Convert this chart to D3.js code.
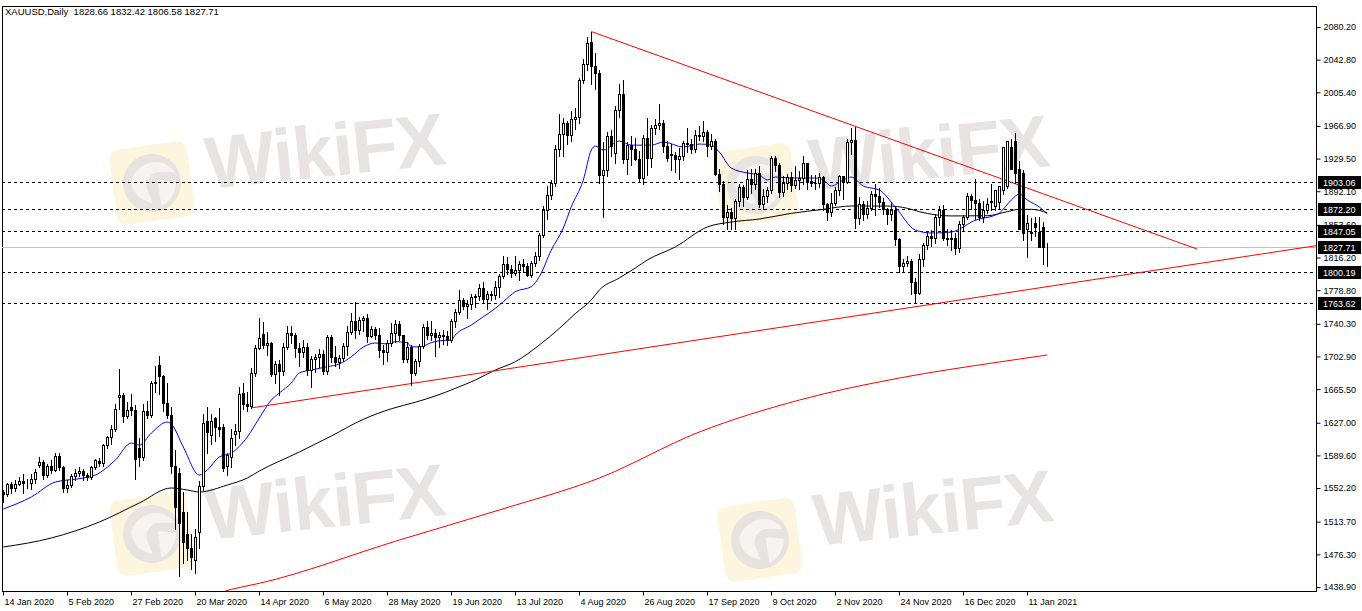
<!DOCTYPE html>
<html><head><meta charset="utf-8">
<script src="https://cdn.jsdelivr.net/npm/d3@7"></script>
<style>
html,body{margin:0;padding:0;background:#fff;}
svg{display:block;}
text{font-family:"Liberation Sans",Arial,sans-serif;}
</style></head><body>
<svg id="chart" width="1362" height="611"></svg>
<script>
const header = "XAUUSD,Daily  1828.66 1832.42 1806.58 1827.71";
const opens = [1548,1545,1557,1552,1557,1560,1558,1558,1563,1579,1582,1567,1577,1573,1589,1576,1552,1556,1566,1570,1572,1567,1565,1576,1583,1581,1601,1611,1620,1657,1659,1635,1645,1642,1598,1588,1641,1636,1672,1693,1680,1650,1636,1577,1570,1525,1500,1484,1470,1502,1554,1629,1613,1632,1622,1622,1577,1588,1614,1617,1661,1648,1646,1684,1713,1729,1716,1718,1683,1694,1686,1714,1730,1727,1713,1708,1714,1687,1700,1702,1706,1686,1725,1702,1697,1701,1715,1731,1743,1733,1745,1747,1726,1734,1728,1710,1708,1718,1730,1740,1727,1700,1714,1684,1698,1715,1737,1728,1730,1725,1727,1726,1722,1743,1754,1768,1761,1763,1771,1772,1781,1769,1775,1773,1783,1795,1809,1803,1798,1802,1809,1807,1796,1810,1818,1842,1871,1888,1902,1941,1958,1970,1957,1975,1977,2019,2038,2063,2035,2028,1911,1916,1955,1936,1985,2003,1929,1945,1940,1929,1907,1953,1930,1964,1968,1970,1944,1935,1934,1929,1932,1947,1946,1940,1957,1955,1960,1944,1950,1912,1900,1863,1868,1862,1881,1897,1886,1906,1900,1913,1877,1887,1893,1930,1922,1891,1902,1908,1899,1905,1907,1924,1904,1902,1901,1908,1877,1868,1879,1894,1909,1903,1948,1951,1862,1877,1866,1873,1889,1887,1880,1872,1866,1871,1837,1806,1810,1812,1788,1776,1815,1830,1841,1838,1863,1871,1838,1837,1839,1827,1855,1863,1887,1882,1879,1863,1871,1881,1875,1880,1893,1898,1943,1950,1918,1913,1849,1844,1856,1846,1851,1828.66];
const highs = [1550,1558,1559,1561,1565,1568,1563,1568,1574,1588,1584,1580,1584,1592,1592,1578,1562,1568,1574,1576,1574,1570,1578,1585,1587,1603,1612,1624,1649,1689,1661,1651,1660,1647,1609,1649,1652,1675,1692,1703,1682,1672,1645,1596,1575,1548,1525,1500,1505,1560,1637,1645,1637,1634,1644,1625,1592,1620,1626,1668,1672,1662,1690,1716,1747,1742,1731,1720,1698,1699,1718,1738,1738,1730,1718,1722,1718,1703,1706,1711,1710,1727,1727,1715,1705,1718,1738,1753,1765,1748,1749,1751,1738,1737,1736,1716,1722,1741,1745,1744,1728,1720,1716,1700,1717,1740,1744,1744,1734,1731,1733,1732,1746,1757,1779,1770,1768,1774,1775,1786,1788,1778,1778,1789,1797,1818,1817,1808,1818,1812,1815,1810,1812,1822,1844,1875,1898,1905,1945,1981,1976,1972,1984,1988,2022,2044,2069,2075,2050,2031,1949,1960,1962,1990,2015,2019,1948,1955,1953,1938,1956,1976,1968,1975,1992,1974,1950,1946,1937,1942,1950,1965,1952,1962,1967,1972,1962,1958,1952,1918,1904,1876,1873,1883,1900,1899,1917,1918,1918,1921,1895,1897,1933,1933,1925,1910,1912,1914,1921,1915,1932,1925,1911,1911,1913,1909,1879,1890,1897,1911,1910,1952,1965,1966,1885,1881,1881,1892,1900,1896,1884,1873,1880,1875,1838,1815,1818,1815,1793,1820,1833,1845,1848,1866,1875,1876,1849,1848,1844,1858,1865,1890,1889,1906,1883,1881,1884,1900,1884,1897,1900,1944,1952,1959,1927,1917,1865,1862,1863,1863,1857,1832.42];
const lows = [1536,1543,1546,1549,1556,1547,1552,1551,1558,1576,1563,1565,1569,1572,1573,1548,1548,1553,1562,1566,1561,1562,1563,1574,1578,1578,1598,1603,1618,1643,1628,1632,1636,1563,1577,1584,1632,1634,1662,1660,1640,1633,1570,1505,1451,1466,1470,1460,1455,1484,1550,1592,1603,1606,1612,1572,1567,1576,1602,1610,1643,1641,1644,1680,1711,1713,1705,1680,1672,1659,1682,1712,1718,1702,1692,1702,1682,1668,1685,1691,1683,1683,1697,1692,1690,1698,1705,1729,1724,1729,1732,1720,1725,1723,1702,1694,1698,1715,1720,1722,1696,1696,1670,1682,1692,1713,1723,1722,1704,1714,1717,1716,1720,1737,1752,1757,1747,1757,1760,1767,1764,1757,1767,1769,1771,1793,1797,1794,1796,1790,1800,1795,1794,1806,1813,1840,1860,1883,1898,1932,1932,1946,1950,1963,1970,2016,2031,2015,2009,1901,1863,1910,1932,1925,1977,1924,1912,1922,1928,1903,1900,1911,1920,1958,1963,1937,1927,1916,1914,1906,1928,1937,1936,1937,1951,1950,1932,1940,1911,1892,1855,1849,1849,1849,1875,1875,1883,1890,1895,1874,1872,1880,1890,1915,1885,1887,1895,1892,1896,1895,1900,1895,1898,1895,1897,1871,1859,1864,1876,1888,1883,1902,1935,1850,1855,1859,1862,1871,1865,1874,1866,1855,1859,1830,1800,1800,1806,1775,1764,1774,1806,1826,1829,1833,1853,1836,1830,1825,1820,1822,1848,1860,1872,1860,1859,1857,1867,1871,1871,1873,1889,1896,1937,1902,1907,1836,1817,1836,1841,1837,1809,1806.58];
const closes = [1545,1557,1552,1557,1560,1558,1558,1563,1571,1582,1567,1577,1573,1589,1576,1552,1556,1566,1570,1572,1567,1565,1576,1584,1581,1601,1611,1620,1643,1659,1635,1642,1642,1585,1588,1641,1636,1672,1674,1680,1650,1636,1577,1530,1512,1490,1484,1473,1496,1554,1627,1616,1629,1622,1620,1575,1590,1610,1618,1660,1648,1646,1684,1713,1724,1716,1718,1683,1694,1686,1714,1730,1727,1713,1708,1714,1687,1700,1702,1706,1686,1725,1702,1697,1701,1715,1731,1743,1733,1745,1747,1726,1734,1728,1710,1708,1718,1730,1740,1727,1700,1714,1684,1698,1715,1737,1728,1730,1725,1727,1726,1722,1743,1754,1768,1761,1763,1771,1772,1781,1769,1775,1773,1783,1795,1809,1803,1798,1802,1809,1807,1796,1810,1818,1842,1871,1888,1902,1941,1958,1970,1957,1975,1977,2019,2038,2062,2035,2028,1911,1916,1955,1944,1985,2003,1929,1945,1940,1929,1907,1953,1930,1964,1968,1970,1944,1930,1934,1929,1932,1947,1946,1940,1957,1955,1960,1944,1950,1912,1900,1863,1868,1862,1881,1897,1886,1906,1900,1913,1877,1887,1893,1930,1922,1891,1902,1908,1899,1905,1907,1924,1904,1902,1901,1908,1877,1868,1879,1894,1909,1903,1948,1951,1862,1877,1866,1873,1889,1887,1880,1872,1866,1871,1837,1806,1810,1812,1788,1776,1815,1830,1841,1838,1863,1871,1838,1837,1839,1827,1855,1863,1887,1882,1879,1863,1871,1877,1880,1893,1898,1943,1950,1918,1913,1849,1844,1856,1846,1851,1828,1827.71];

const dateTickBars = [0,16,32,48,64,80,96,112,128,144,160,176,192,208,224,240,256];
const dateTickLabels = ["14 Jan 2020","5 Feb 2020","27 Feb 2020","20 Mar 2020","14 Apr 2020","6 May 2020","28 May 2020","19 Jun 2020","13 Jul 2020","4 Aug 2020","26 Aug 2020","17 Sep 2020","9 Oct 2020","2 Nov 2020","24 Nov 2020","16 Dec 2020","11 Jan 2021"];
const priceTicks = [2080.20,2042.80,2005.40,1966.90,1929.50,1892.10,1853.60,1816.20,1778.80,1740.30,1702.90,1665.50,1627.00,1589.60,1552.20,1513.70,1476.30,1438.90];
const levelLines = [1903.06,1872.20,1847.05,1800.19,1763.62];
const bidPrice = 1827.71;

const maFastBars = [0,7,13,20,23,28,32,34,37,41,42,45,49,51,54,57,61,64,67,69,72,74,77,81,84,87,90,93,96,98,101,102,104,107,109,112,113,117,120,123,125,128,132,134,137,140,142,145,147,148,150,154,157,162,165,170,174,177,179,182,186,189,191,193,197,200,203,205,207,210,212,215,219,223,228,232,237,240,242,249,252,254,256,259,261];
const maFastValues = [1528.2,1542.0,1559.1,1563.7,1567.1,1584.3,1603.8,1601.5,1615.2,1627.8,1625.5,1599.2,1567.1,1572.9,1587.8,1592.3,1610.7,1632.4,1653.0,1661.1,1672.5,1684.0,1687.4,1691.2,1694.3,1702.6,1713.7,1718.3,1717.2,1719.8,1718.7,1714.1,1713.7,1718.7,1720.9,1721.7,1727.5,1738.9,1748.4,1758.0,1765.6,1777.1,1782.8,1794.2,1824.8,1850.0,1874.4,1905.0,1939.3,1943.9,1939.3,1949.6,1944.9,1944.9,1948.5,1942.8,1946.2,1944.9,1937.0,1918.7,1913.0,1910.7,1905.0,1908.4,1907.3,1907.3,1907.3,1905.0,1898.1,1905.0,1908.4,1898.1,1893.5,1874.1,1847.7,1844.3,1845.4,1851.2,1856.9,1867.2,1882.1,1888.9,1882.1,1874.1,1866.0];
const maMidBars = [0,12,24,34,42,46,49,56,61,64,74,82,90,97,103,108,113,118,123,128,134,139,143,147,149,154,158,161,168,176,182,189,197,205,212,221,226,229,237,246,251,254,257,261];
const maMidValues = [1484.7,1495.0,1513.3,1535.1,1552.3,1550.0,1547.7,1555.7,1563.7,1571.7,1593.5,1611.8,1630.9,1643.0,1650.5,1657.6,1666.4,1675.9,1687.4,1696.9,1716.0,1735.0,1752.0,1767.6,1779.0,1792.8,1804.2,1813.4,1828.3,1851.2,1856.9,1860.3,1866.8,1871.4,1875.2,1875.2,1872.6,1868.7,1863.8,1864.1,1868.7,1871.4,1871.4,1867.5];
const maSlowBars = [50,57,64,99,124,149,174,199,224,249,261];
const maSlowValues = [1426.0,1436.2,1443.1,1492.7,1527.1,1563.7,1616.4,1653.0,1678.2,1696.6,1704.6];

const trendBars = [[147,298.4],[62,330]];
const trendPrices = [[2075,1826.0],[1644,1831.0]];

(function(){
const pL = 2, pT = 6, pR = 1316, pB = 591;
const svg = d3.select("#chart");
const x = d3.scaleLinear().domain([0, 261]).range([3.3, 3.3 + 4 * 261]);
const y = d3.scaleLinear().domain([1438.9, 2080.2]).range([587, 27]);

svg.append("defs").append("clipPath").attr("id","plot")
  .append("rect").attr("x",pL).attr("y",pT).attr("width",pR-pL).attr("height",pB-pT);

function watermark(gx, gy){
  const g = svg.append("g").attr("transform",`translate(${gx},${gy})`);
  const logo = g.append("g").attr("transform","translate(40,40) rotate(-8)");
  logo.append("rect").attr("x",-39).attr("y",-38).attr("width",78).attr("height",76).attr("rx",10)
    .attr("fill","#fdf5de");
  logo.append("circle").attr("r",29).attr("fill","#e7e3e0");
  logo.append("path").attr("d","M-20,-6 C-10,-24 14,-26 24,-8 L8,-10 C0,-10 -6,-4 -6,4 L-2,20 C-14,16 -22,6 -20,-6 Z")
    .attr("fill","#f6f3f0");
  logo.append("path").attr("d","M6,-2 L24,2 C22,14 14,22 6,24 Z").attr("fill","#f6f3f0");
  g.append("text").attr("x",96).attr("y",46).attr("transform","rotate(-6,96,46)")
    .attr("font-size",74).attr("font-weight","bold").attr("fill","#e9e4e3")
    .attr("letter-spacing",-1).text("WikiFX");
}
watermark(112,143);
watermark(716,145);
watermark(112,494);
watermark(720,500);

svg.append("rect").attr("x",pL+0.5).attr("y",pT+0.5).attr("width",pR-pL).attr("height",pB-pT)
  .attr("fill","none").attr("stroke","#000").attr("stroke-width",1);

const plot = svg.append("g").attr("clip-path","url(#plot)");

plot.append("line").attr("x1",pL).attr("x2",pR)
  .attr("y1",Math.round(y(bidPrice))+0.5).attr("y2",Math.round(y(bidPrice))+0.5)
  .attr("stroke","#c0c0c0").attr("stroke-width",1);

plot.selectAll("line.lvl").data(levelLines).enter().append("line").attr("class","lvl")
  .attr("x1",pL).attr("x2",pR)
  .attr("y1",d=>Math.round(y(d))+0.5).attr("y2",d=>Math.round(y(d))+0.5)
  .attr("stroke","#000").attr("stroke-width",1).attr("stroke-dasharray","3,3");

function maLine(bars, vals, color){
  const pts = bars.map((b,i)=>[x(b), y(vals[i])]);
  plot.append("path").attr("d", d3.line().curve(d3.curveMonotoneX)(pts))
    .attr("fill","none").attr("stroke",color).attr("stroke-width",1);
}
maLine(maSlowBars, maSlowValues, "#ff0000");
maLine(maMidBars, maMidValues, "#000000");
maLine(maFastBars, maFastValues, "#0000ff");

trendBars.forEach((b,i)=>{
  plot.append("line").attr("x1",x(b[0])).attr("y1",y(trendPrices[i][0]))
    .attr("x2",x(b[1])).attr("y2",y(trendPrices[i][1]))
    .attr("stroke","#ff0000").attr("stroke-width",1);
});

const candles = plot.append("g");
opens.forEach((o,i)=>{
  const c = closes[i], h = highs[i], l = lows[i];
  const cx = Math.round(x(i));
  candles.append("line").attr("x1",cx+0.5).attr("x2",cx+0.5)
    .attr("y1",Math.round(y(h))).attr("y2",Math.round(y(l))+1)
    .attr("stroke","#000").attr("stroke-width",1);
  const t = Math.round(y(Math.max(o,c))), b = Math.round(y(Math.min(o,c)));
  if (c >= o) {
    candles.append("rect").attr("x",cx-1+0.5).attr("y",t+0.5).attr("width",2).attr("height",Math.max(0,b-t))
      .attr("fill","#fff").attr("stroke","#000").attr("stroke-width",1);
  } else {
    candles.append("rect").attr("x",cx-1).attr("y",t).attr("width",3).attr("height",Math.max(1,b-t+1))
      .attr("fill","#000");
  }
});

const yAxis = d3.axisRight(y).tickValues(priceTicks).tickSize(4).tickFormat(d=>d.toFixed(2));
const ya = svg.append("g").attr("transform",`translate(${pR+0.5},0)`).call(yAxis);
ya.select(".domain").remove();
ya.selectAll("line").attr("stroke","#000");
ya.selectAll("text").attr("x",7).attr("font-size",9).attr("fill","#000")
  .attr("font-family","'Liberation Sans',Arial,sans-serif");

const xAxis = d3.axisBottom(x).tickValues(dateTickBars).tickSize(4)
  .tickFormat((d,i)=>dateTickLabels[i]);
const xa = svg.append("g").attr("transform",`translate(0.5,${pB+0.5})`).call(xAxis);
xa.select(".domain").remove();
xa.selectAll(".tick").attr("transform",d=>`translate(${Math.round(x(d))},0)`);
xa.selectAll("line").attr("stroke","#000");
xa.selectAll("text").attr("text-anchor","start").attr("x",1).attr("y",7).attr("dy","0.71em")
  .attr("font-size",9).attr("fill","#000").attr("font-family","'Liberation Sans',Arial,sans-serif");

const boxes = levelLines.concat([bidPrice]);
boxes.forEach(v=>{
  const yy = Math.round(y(v));
  svg.append("rect").attr("x",pR+2).attr("y",yy-6).attr("width",43).attr("height",13).attr("fill","#000");
  svg.append("text").attr("x",pR+7).attr("y",yy+0.5).attr("dy","0.35em")
    .attr("font-size",9).attr("fill","#fff").text(v.toFixed(2));
});

svg.append("text").attr("x",5).attr("y",15).attr("font-size",9.5).attr("fill","#000")
  .attr("xml:space","preserve").style("white-space","pre").text(header);
})();
</script>
</body></html>
